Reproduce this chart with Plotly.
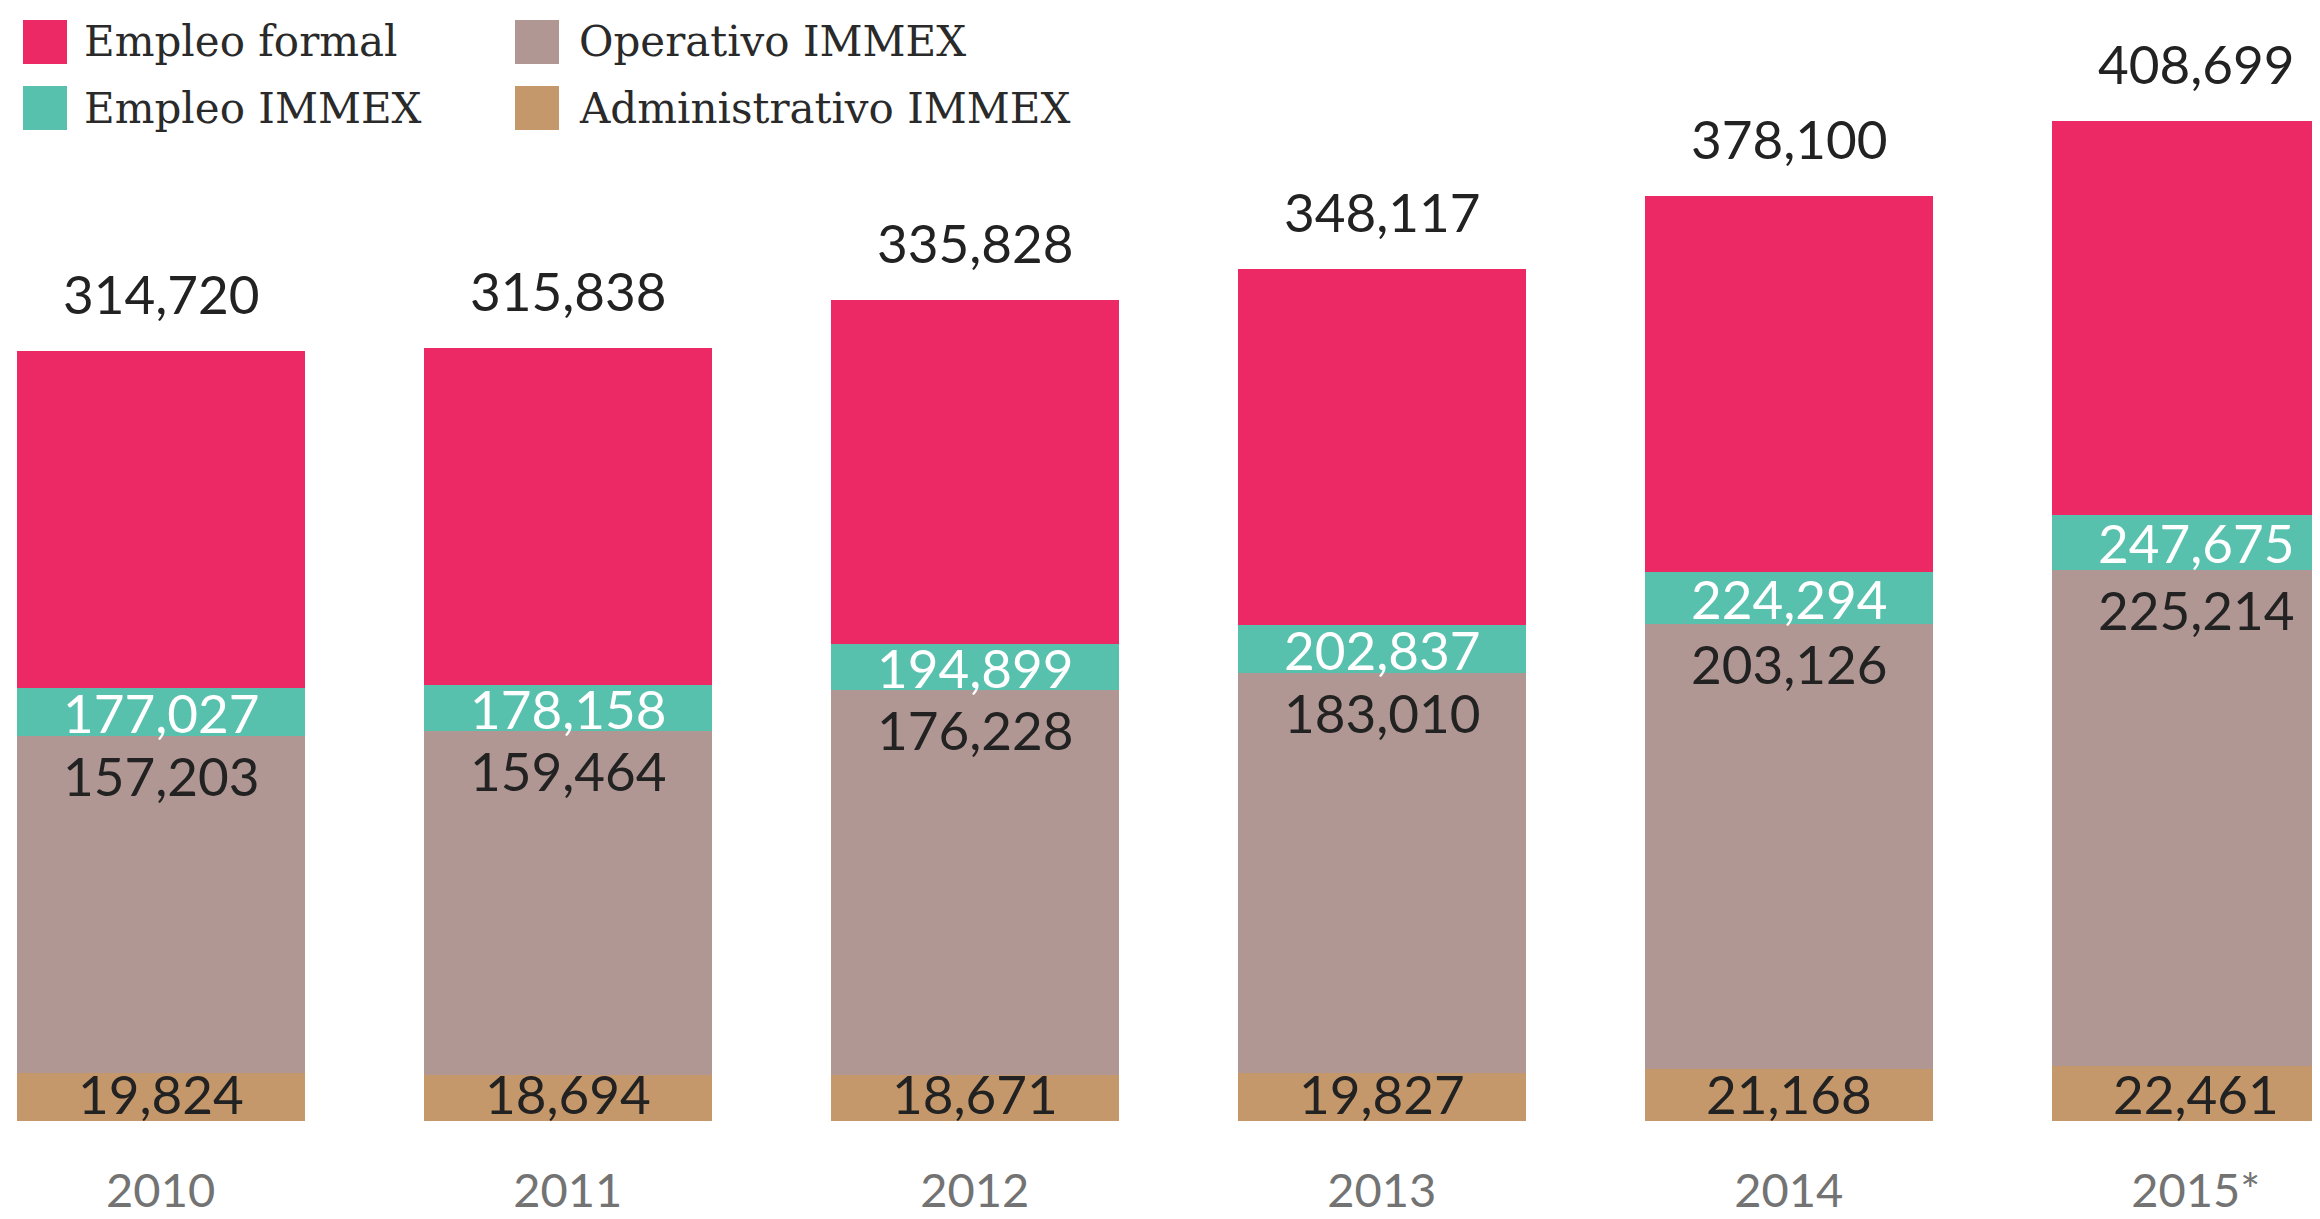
import plotly.graph_objects as go

years = ["2010", "2011", "2012", "2013", "2014", "2015*"]
empleo_formal = [314720, 315838, 335828, 348117, 378100, 408699]
empleo_immex = [177027, 178158, 194899, 202837, 224294, 247675]
operativo_immex = [157203, 159464, 176228, 183010, 203126, 225214]
administrativo_immex = [19824, 18694, 18671, 19827, 21168, 22461]

names = ["Empleo formal", "Empleo IMMEX", "Operativo IMMEX", "Administrativo IMMEX"]
colors = ["#EC2964", "#58C1AE", "#B09793", "#C4986B"]
series = [empleo_formal, empleo_immex, operativo_immex, administrativo_immex]

W, H = 2320, 1219
M_B = 106
PLOT_H = H - M_B

fig = go.Figure()
for name, col, vals in zip(names, colors, series):
    fig.add_trace(go.Bar(
        x=list(range(len(years))), y=vals, name=name,
        marker=dict(color=col, line=dict(width=0)),
        width=0.708, showlegend=False, hoverinfo="name+y",
    ))

num_font = dict(family="Lato, Open Sans, sans-serif", size=53)
ann = []
for i in range(len(years)):
    # total label above bar
    ann.append(dict(x=i, y=empleo_formal[i], xref="x", yref="y",
                    text=f"{empleo_formal[i]:,}", showarrow=False,
                    yanchor="bottom", yshift=24,
                    font=dict(num_font, color="#222222")))
    # IMMEX label (white) centred in teal band
    ann.append(dict(x=i, y=(empleo_immex[i] + operativo_immex[i]) / 2, xref="x", yref="y",
                    text=f"{empleo_immex[i]:,}", showarrow=False,
                    yanchor="middle",
                    font=dict(num_font, color="#FFFFFF")))
    # operativo label
    ann.append(dict(x=i, y=operativo_immex[i], xref="x", yref="y",
                    text=f"{operativo_immex[i]:,}", showarrow=False,
                    yanchor="top", yshift=-6,
                    font=dict(num_font, color="#222222")))
    # administrativo label
    ann.append(dict(x=i, y=0, xref="x", yref="y",
                    text=f"{administrativo_immex[i]:,}", showarrow=False,
                    yanchor="bottom", yshift=-6,
                    font=dict(num_font, color="#222222")))

# manual legend (2 x 2 grid)
shapes = []
leg_cols = [(15, 74), (507, 569)]
leg_rows = [34, 100]
order = [(0, 0), (1, 0), (0, 1), (1, 1)]  # (row, col) for each series
sq = 44
for k, (r, c) in enumerate(order):
    sx, tx = leg_cols[c]
    cy = leg_rows[r]
    shapes.append(dict(type="rect", xref="paper", yref="paper",
                       x0=sx / W, x1=(sx + sq) / W,
                       y0=1 - (cy + sq / 2) / PLOT_H, y1=1 - (cy - sq / 2) / PLOT_H,
                       fillcolor=colors[k], line=dict(width=0)))
    ann.append(dict(x=tx / W, y=1 - cy / PLOT_H, xref="paper", yref="paper",
                    xanchor="left", yanchor="middle", showarrow=False,
                    text=names[k],
                    font=dict(family="DejaVu Serif, serif", size=42, color="#2a2a2a")))

fig.update_layout(
    width=W, height=H,
    margin=dict(l=0, r=0, t=0, b=M_B),
    barmode="overlay",
    bargap=0,
    plot_bgcolor="white", paper_bgcolor="white",
    showlegend=False,
    annotations=ann,
    shapes=shapes,
    xaxis=dict(
        tickmode="array", tickvals=list(range(len(years))), ticktext=years,
        range=[-0.375, 5.325], showgrid=False, zeroline=False, showline=False,
        ticks="", ticklabelstandoff=38, automargin=False,
        tickfont=dict(family="Lato, Open Sans, sans-serif", size=47, color="#737373"),
    ),
    yaxis=dict(range=[0, 455000], visible=False, showgrid=False, zeroline=False,
               automargin=False),
)

fig.write_html("out.html")
